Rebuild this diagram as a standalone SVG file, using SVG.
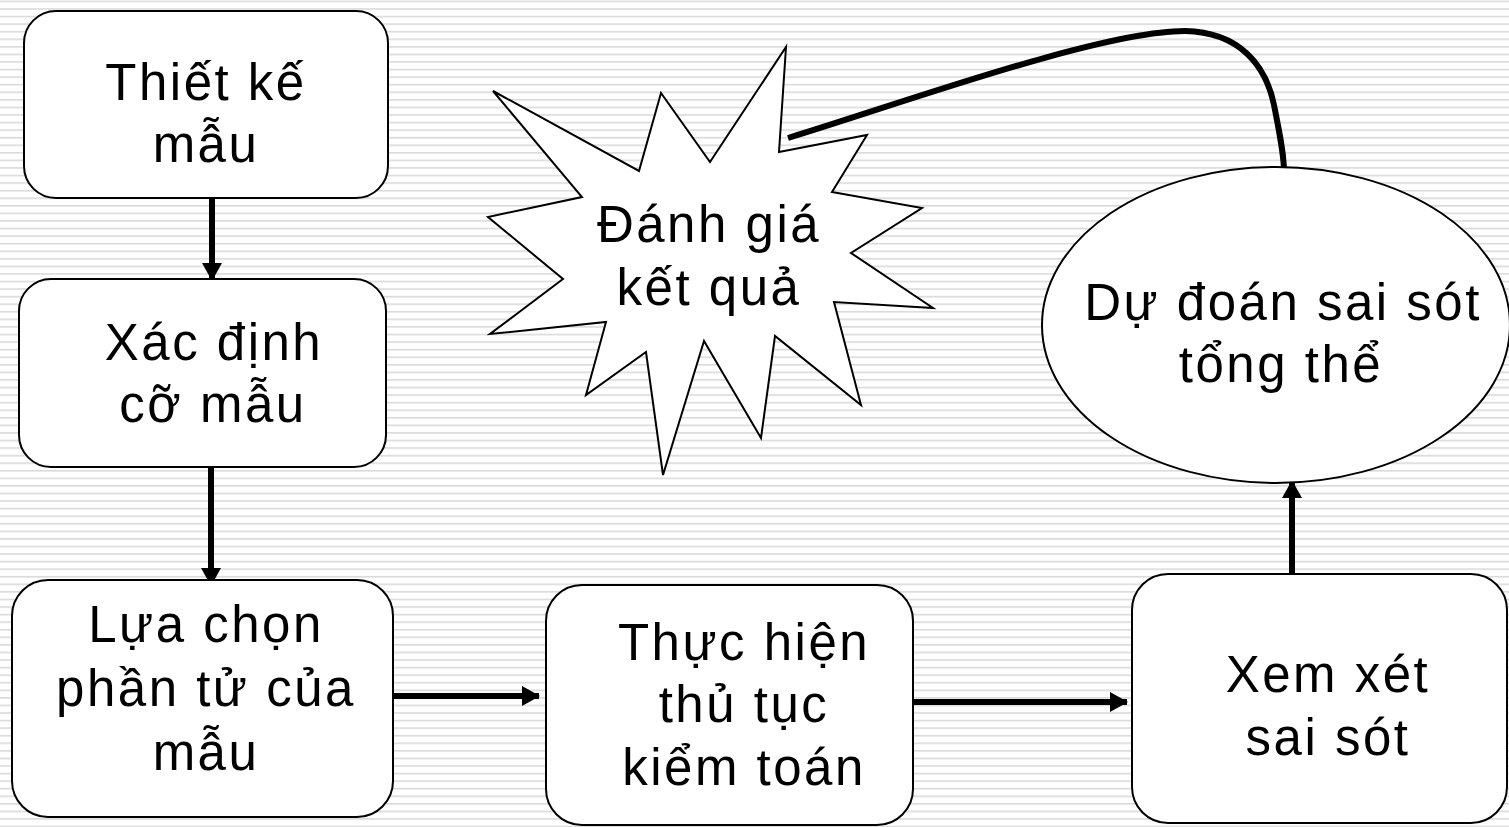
<svg xmlns="http://www.w3.org/2000/svg" width="1509" height="827" viewBox="0 0 1509 827">
  <defs>
    <pattern id="stripes" patternUnits="userSpaceOnUse" x="0" y="0.6" width="20" height="7.57">
      <rect x="0" y="0" width="20" height="1.6" fill="#dadada"/>
    </pattern>
    <marker id="head" viewBox="0 0 18 20" refX="17" refY="10" markerWidth="18" markerHeight="20" markerUnits="userSpaceOnUse" orient="auto">
      <path d="M0,0 L18,10 L0,20 Z" fill="#000"/>
    </marker>
  </defs>
  <style>
    .shape { fill: #fff; stroke: #000; stroke-width: 2; }
    .label { font-family: "Liberation Sans", Arial, sans-serif; font-size: 51px; letter-spacing: 2.5px; fill: #000; text-anchor: middle; }
    .link { fill: none; stroke: #000; stroke-width: 6; }
  </style>

  <!-- striped backdrop -->
  <rect width="1509" height="827" fill="#fff"/>
  <rect width="1509" height="827" fill="url(#stripes)"/>

  <!-- connectors -->
  <g id="connectors">
    <line class="link" x1="212" y1="198" x2="212" y2="280" marker-end="url(#head)"/>
    <line class="link" x1="211" y1="467" x2="211" y2="585" marker-end="url(#head)"/>
    <line class="link" x1="393" y1="696" x2="539" y2="696" marker-end="url(#head)"/>
    <line class="link" x1="909" y1="702" x2="1127" y2="702" marker-end="url(#head)"/>
    <line class="link" x1="1292" y1="580" x2="1292" y2="481" marker-end="url(#head)"/>
    <path class="link" d="M788,138 C900,104 1100,31 1185,31 C1240,32 1266,66 1274,105 C1280,135 1283,150 1284,168"/>
  </g>

  <!-- nodes -->
  <g id="n-thiet-ke-mau">
    <rect class="shape" x="24" y="11" width="364" height="187" rx="32" ry="32"/>
    <text class="label" x="206" y="100">Thiết kế</text>
    <text class="label" x="206" y="162">mẫu</text>
  </g>

  <g id="n-xac-dinh-co-mau">
    <rect class="shape" x="19" y="279" width="367" height="188" rx="32" ry="32"/>
    <text class="label" x="214" y="360">Xác định</text>
    <text class="label" x="213" y="422">cỡ mẫu</text>
  </g>

  <g id="n-lua-chon">
    <rect class="shape" x="12" y="580" width="381" height="237" rx="36" ry="36"/>
    <text class="label" x="206" y="642">Lựa chọn</text>
    <text class="label" x="206" y="706">phần tử của</text>
    <text class="label" x="206" y="770">mẫu</text>
  </g>

  <g id="n-thuc-hien">
    <rect class="shape" x="546" y="585" width="367" height="240" rx="36" ry="36"/>
    <text class="label" x="744" y="660">Thực hiện</text>
    <text class="label" x="744" y="722">thủ tục</text>
    <text class="label" x="744" y="785">kiểm toán</text>
  </g>

  <g id="n-xem-xet">
    <rect class="shape" x="1132" y="574" width="375" height="249" rx="36" ry="36"/>
    <text class="label" x="1328" y="692">Xem xét</text>
    <text class="label" x="1328" y="755">sai sót</text>
  </g>

  <g id="n-du-doan">
    <ellipse class="shape" cx="1276" cy="325" rx="234" ry="158"/>
    <text class="label" x="1283" y="320">Dự đoán sai sót</text>
    <text class="label" x="1281" y="382">tổng thể</text>
  </g>

  <g id="n-danh-gia">
    <polygon class="shape" points="493,91 639,171 661,93 710,162 786,47 779,152 867,135 832,192 922,208 851,253 933,308 834,302 861,405 775,336 761,438 704,341 663,475 646,352 586,395 606,322 490,334 563,279 488,217 582,197"/>
    <text class="label" x="709" y="242">Đánh giá</text>
    <text class="label" x="709" y="305">kết quả</text>
  </g>
</svg>
